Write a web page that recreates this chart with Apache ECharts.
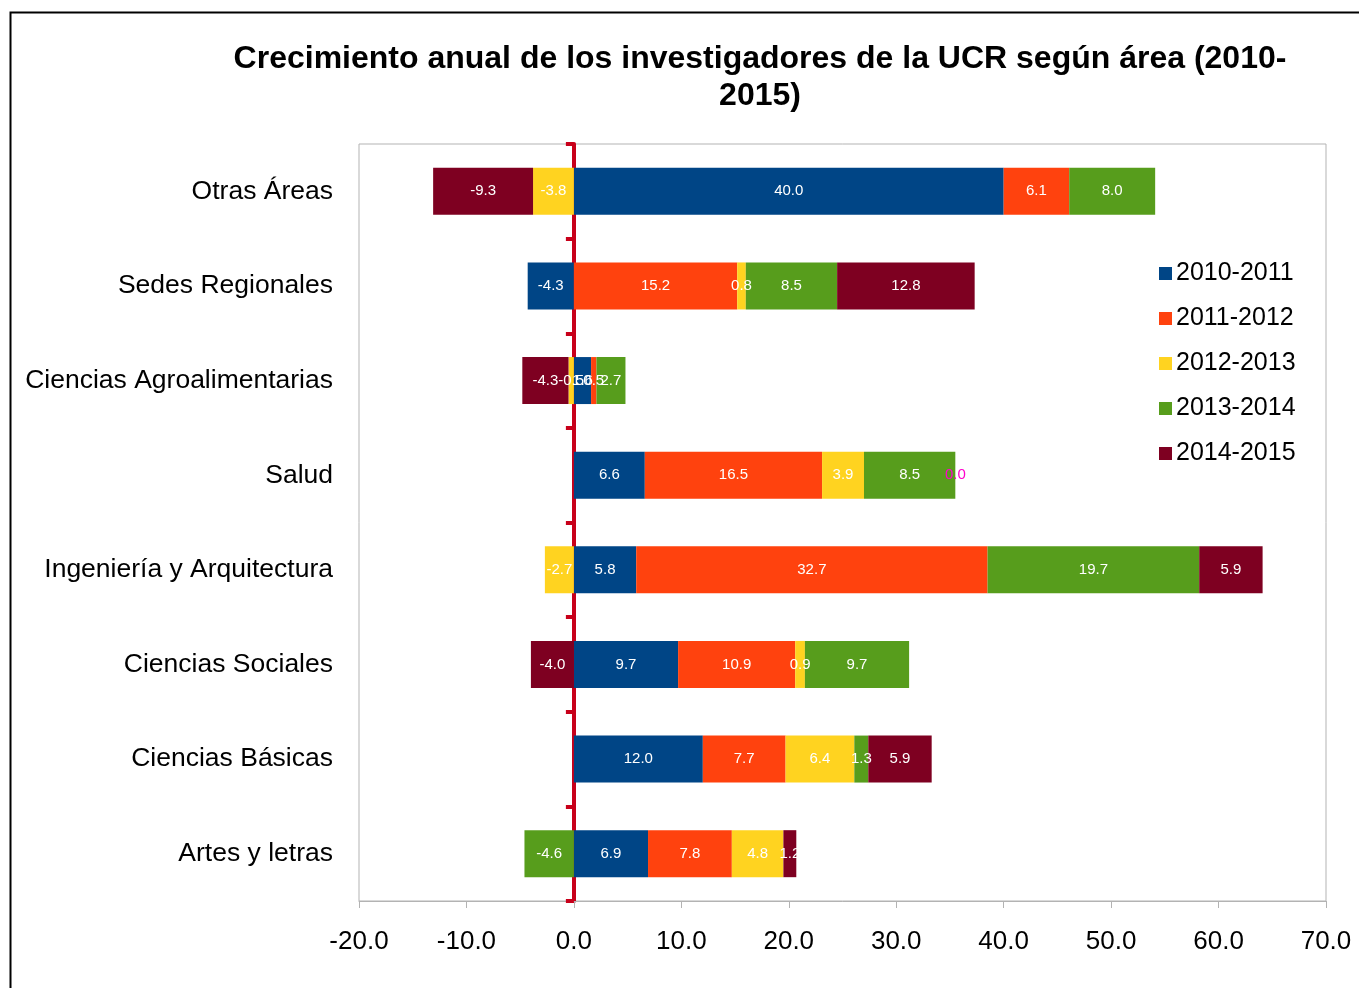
<!DOCTYPE html>
<html>
<head>
<meta charset="utf-8">
<script src="https://cdn.jsdelivr.net/npm/echarts@6/dist/echarts.min.js"></script>
<style>
  html, body { margin: 0; padding: 0; background: #fff; }
  #chart { width: 1359px; height: 988px; }
</style>
</head>
<body>
<div id="chart"></div>
<script>
// Áreas (de arriba hacia abajo)
const areas = ['Otras Áreas', 'Sedes Regionales', 'Ciencias Agroalimentarias', 'Salud',
  'Ingeniería y Arquitectura', 'Ciencias Sociales', 'Ciencias Básicas', 'Artes y letras'];

const periodos = ['2010-2011', '2011-2012', '2012-2013', '2013-2014', '2014-2015'];

const p2010_2011 = [40.0, -4.3, 1.6, 6.6, 5.8, 9.7, 12.0, 6.9];
const p2011_2012 = [6.1, 15.2, 0.5, 16.5, 32.7, 10.9, 7.7, 7.8];
const p2012_2013 = [-3.8, 0.8, -0.5, 3.9, -2.7, 0.9, 6.4, 4.8];
const p2013_2014 = [8.0, 8.5, 2.7, 8.5, 19.7, 9.7, 1.3, -4.6];
const p2014_2015 = [-9.3, 12.8, -4.3, 0.0, 5.9, -4.0, 5.9, 1.2];

const xTicks = [-20, -10, 0, 10, 20, 30, 40, 50, 60, 70];

const colores = ['#004586', '#ff420e', '#ffd320', '#579d1c', '#7e0021'];
const valores = [p2010_2011, p2011_2012, p2012_2013, p2013_2014, p2014_2015];

const chart = echarts.init(document.getElementById('chart'));

const series = periodos.map((p, i) => ({
  name: p,
  type: 'bar',
  stack: 'total',
  barWidth: 47,
  itemStyle: { color: colores[i] },
  label: {
    show: true,
    position: 'inside',
    color: '#fff',
    fontSize: 15,
    fontFamily: 'Liberation Sans, Arial',
    formatter: (d) => Number(d.value).toFixed(1)
  },
  data: valores[i].map(v => v === 0
    ? { value: v, label: { color: '#ff00cc' } }
    : v)
}));

chart.setOption({
  animation: false,
  textStyle: { fontFamily: 'Liberation Sans, Arial' },
  title: {
    text: 'Crecimiento anual de los investigadores de la UCR según área (2010-\n2015)',
    left: 755,
    textAlign: 'center',
    top: 36,
    textStyle: { fontSize: 32, fontWeight: 'bold', color: '#000', lineHeight: 37 }
  },
  graphic: [{
    type: 'rect',
    left: 8, top: 10,
    shape: { width: 1400, height: 1000 },
    style: { fill: 'none', stroke: '#000', lineWidth: 2 }
  }],
  legend: {
    orient: 'vertical',
    left: 1154,
    top: 256,
    itemWidth: 13,
    itemHeight: 13,
    itemGap: 20,
    icon: 'rect',
    textStyle: { fontSize: 25, color: '#000', padding: [0, 0, 0, -1] },
    data: periodos
  },
  grid: {
    left: 359, right: 33, top: 144, bottom: 87,
    show: true, borderColor: '#b3b3b3', borderWidth: 1
  },
  xAxis: {
    type: 'value',
    min: -20, max: 70, interval: 10,
    splitLine: { show: false },
    axisLine: { show: true, onZero: false, lineStyle: { color: '#b3b3b3' } },
    axisTick: { show: true, length: 7, lineStyle: { color: '#b3b3b3' } },
    axisLabel: {
      fontSize: 26, color: '#000', margin: 28,
      formatter: (v) => xTicks.includes(v) ? v.toFixed(1) : ''
    }
  },
  yAxis: [{
    type: 'category',
    data: areas,
    inverse: true,
    axisLine: { show: false, onZero: false },
    axisTick: { show: false },
    axisLabel: { fontSize: 26.5, color: '#000', margin: 26 }
  }, {
    type: 'category',
    data: areas,
    inverse: true,
    position: 'left',
    axisLine: { show: true, onZero: true, lineStyle: { color: '#c8001a', width: 4 } },
    axisTick: { show: true, length: 8, lineStyle: { color: '#c8001a', width: 4 } },
    axisLabel: { show: false }
  }],
  series: series
});
</script>
</body>
</html>
